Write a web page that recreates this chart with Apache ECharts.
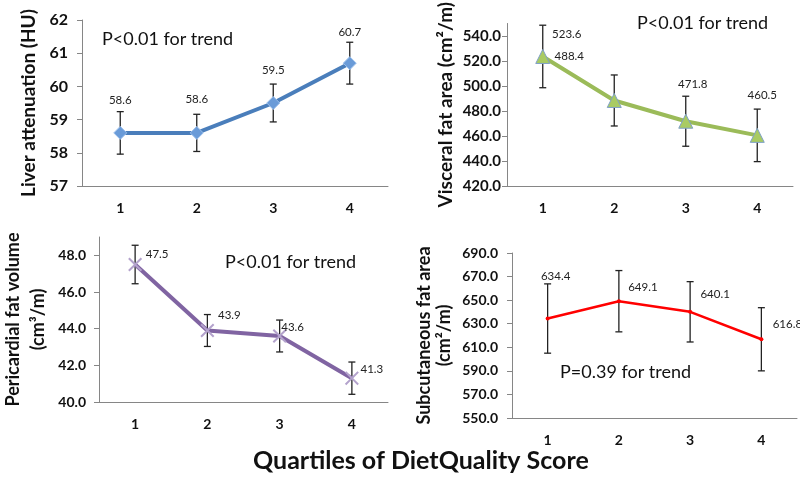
<!DOCTYPE html>
<html>
<head>
<meta charset="utf-8">
<script src="https://cdn.jsdelivr.net/npm/echarts@6/dist/echarts.min.js"></script>
<style>
  html, body { margin: 0; padding: 0; background: #fff; }
  #chart { width: 800px; height: 477px; }
</style>
</head>
<body>
<div id="chart"></div>
<script>
var quartiles = ['1', '2', '3', '4'];

var liverMean = [58.6, 58.6, 59.5, 60.7];
var liverErr = [0.64, 0.56, 0.57, 0.63];

var visceralMean = [523.6, 488.4, 471.8, 460.5];
var visceralErr = [25, 20.4, 20, 21];

var pericardialMean = [47.5, 43.9, 43.6, 41.3];
var pericardialErr = [1.05, 0.87, 0.87, 0.88];

var subcutMean = [634.4, 649.1, 640.1, 616.8];
var subcutErr = [29.4, 26, 25.6, 26.8];

// label offsets (px) relative to the marker, copied from where the labels sit
var liverLabelPos = [[0, -33], [0, -34], [0, -33], [0, -31]];
var visceralLabelPos = [[24, -22], [-45, -44], [7, -37], [5, -40]];
var pericardialLabelPos = [[22, -10], [22, -15], [13, -9], [20, -9]];
var subcutLabelPos = [[8, -42], [24, -14], [25, -18], [26, -15]];

var font = 'Lato, "Open Sans", sans-serif';
var axisGrey = '#868686';

function errData(mean, err) {
  return mean.map(function(m, i) { return [i, m - err[i], m + err[i]]; });
}

function labelled(mean, pos) {
  return mean.map(function(m, i) {
    return { value: m, label: { offset: pos[i] } };
  });
}

function renderErr(params, api) {
  var i = api.value(0);
  var lo = api.coord([i, api.value(1)]);
  var hi = api.coord([i, api.value(2)]);
  var w = 3.5;
  var st = { stroke: '#222', lineWidth: 1.3 };
  return {
    type: 'group',
    children: [
      { type: 'line', shape: { x1: hi[0], y1: hi[1], x2: lo[0], y2: lo[1] }, style: st },
      { type: 'line', shape: { x1: hi[0] - w, y1: hi[1], x2: hi[0] + w, y2: hi[1] }, style: st },
      { type: 'line', shape: { x1: lo[0] - w, y1: lo[1], x2: lo[0] + w, y2: lo[1] }, style: st }
    ]
  };
}

function xAxis(idx) {
  return {
    type: 'category', gridIndex: idx, data: quartiles,
    axisLine: { lineStyle: { color: axisGrey } },
    axisTick: { length: 5, lineStyle: { color: axisGrey } },
    axisLabel: { color: '#111', fontWeight: 'bold', fontSize: 14, fontFamily: font, margin: 15 }
  };
}

function yAxis(idx, min, max, step, dec, name, gap, labelSize, labelMargin, nameSize, lineH) {
  return {
    type: 'value', gridIndex: idx, min: min, max: max, interval: step,
    name: name, nameLocation: 'middle', nameRotate: 90, nameGap: gap,
    nameTextStyle: { fontSize: nameSize, fontWeight: 'bold', color: '#111', fontFamily: font, lineHeight: lineH },
    axisLine: { show: true, lineStyle: { color: axisGrey } },
    axisTick: { show: true, length: 5, lineStyle: { color: axisGrey } },
    splitLine: { show: false },
    axisLabel: {
      color: '#111', fontWeight: 'bold', fontSize: labelSize, fontFamily: font, margin: labelMargin,
      showMaxLabel: (max - min) % step === 0,
      formatter: function(v) { return v.toFixed(dec); }
    }
  };
}

var dataLabel = { show: true, position: 'inside', color: '#222', fontSize: 11.5, fontFamily: font,
  formatter: function(p) { return p.value.toFixed(1); } };

var chart = echarts.init(document.getElementById('chart'), null, { renderer: 'canvas' });

chart.setOption({
  animation: false,
  backgroundColor: '#fff',
  grid: [
    { left: 82, top: 20, width: 306, height: 166 },
    { left: 507, top: 21, width: 286, height: 165 },
    { left: 95, top: 237, width: 293, height: 165 },
    { left: 512, top: 253, width: 285, height: 165 }
  ],
  xAxis: [xAxis(0), xAxis(1), xAxis(2), xAxis(3)],
  yAxis: [
    yAxis(0, 57, 62, 1, 0, 'Liver attenuation (HU)', 42, 16, 14, 19, 22),
    yAxis(1, 420, 550, 20, 1, 'Visceral fat area (cm²/m)', 50, 15, 6, 19, 22),
    yAxis(2, 40, 49, 2, 1, 'Pericardial fat volume\n(cm³/m)', 48, 14, 13, 18, 25),
    yAxis(3, 550, 690, 20, 1, 'Subcutaneous fat area\n(cm²/m)', 58, 14, 14, 18, 20)
  ],
  graphic: [
    { type: 'text', left: 102, top: 30, style: { text: 'P<0.01 for trend', fontSize: 18, fontFamily: font, fill: '#111' } },
    { type: 'text', left: 637, top: 14, style: { text: 'P<0.01 for trend', fontSize: 18, fontFamily: font, fill: '#111' } },
    { type: 'text', left: 225, top: 253, style: { text: 'P<0.01 for trend', fontSize: 18, fontFamily: font, fill: '#111' } },
    { type: 'text', left: 560, top: 363, style: { text: 'P=0.39 for trend', fontSize: 18, fontFamily: font, fill: '#111' } },
    { type: 'text', left: 253, top: 448, style: { text: 'Quartiles of DietQuality Score', fontSize: 25, fontWeight: 'bold', fontFamily: font, fill: '#111' } }
  ],
  series: [
    { type: 'custom', xAxisIndex: 0, yAxisIndex: 0, renderItem: renderErr, data: errData(liverMean, liverErr), z: 1 },
    { type: 'custom', xAxisIndex: 1, yAxisIndex: 1, renderItem: renderErr, data: errData(visceralMean, visceralErr), z: 1 },
    { type: 'custom', xAxisIndex: 2, yAxisIndex: 2, renderItem: renderErr, data: errData(pericardialMean, pericardialErr), z: 1 },
    { type: 'custom', xAxisIndex: 3, yAxisIndex: 3, renderItem: renderErr, data: errData(subcutMean, subcutErr), z: 1 },
    {
      type: 'line', xAxisIndex: 0, yAxisIndex: 0, z: 3,
      data: labelled(liverMean, liverLabelPos),
      symbol: 'diamond', symbolSize: 13,
      lineStyle: { color: '#4A7EBB', width: 4 },
      itemStyle: { color: '#6A9BD8', borderColor: '#9CC0EC', borderWidth: 1 },
      label: dataLabel
    },
    {
      type: 'line', xAxisIndex: 1, yAxisIndex: 1, z: 3,
      data: labelled(visceralMean, visceralLabelPos),
      symbol: 'triangle', symbolSize: 14,
      lineStyle: { color: '#9BBB59', width: 4 },
      itemStyle: { color: '#A9CB62', borderColor: '#7FA0C8', borderWidth: 1 },
      label: dataLabel
    },
    {
      type: 'line', xAxisIndex: 2, yAxisIndex: 2, z: 3,
      data: labelled(pericardialMean, pericardialLabelPos),
      symbol: 'path://M0,1 L1,0 L5,4 L9,0 L10,1 L6,5 L10,9 L9,10 L5,6 L1,10 L0,9 L4,5 Z',
      symbolSize: 14,
      lineStyle: { color: '#8064A2', width: 4 },
      itemStyle: { color: '#B3A2CC' },
      label: dataLabel
    },
    {
      type: 'line', xAxisIndex: 3, yAxisIndex: 3, z: 3,
      data: labelled(subcutMean, subcutLabelPos),
      symbol: 'circle', symbolSize: 4,
      lineStyle: { color: '#FF0000', width: 2.5 },
      itemStyle: { color: '#FF0000' },
      label: dataLabel
    }
  ]
});
</script>
</body>
</html>
